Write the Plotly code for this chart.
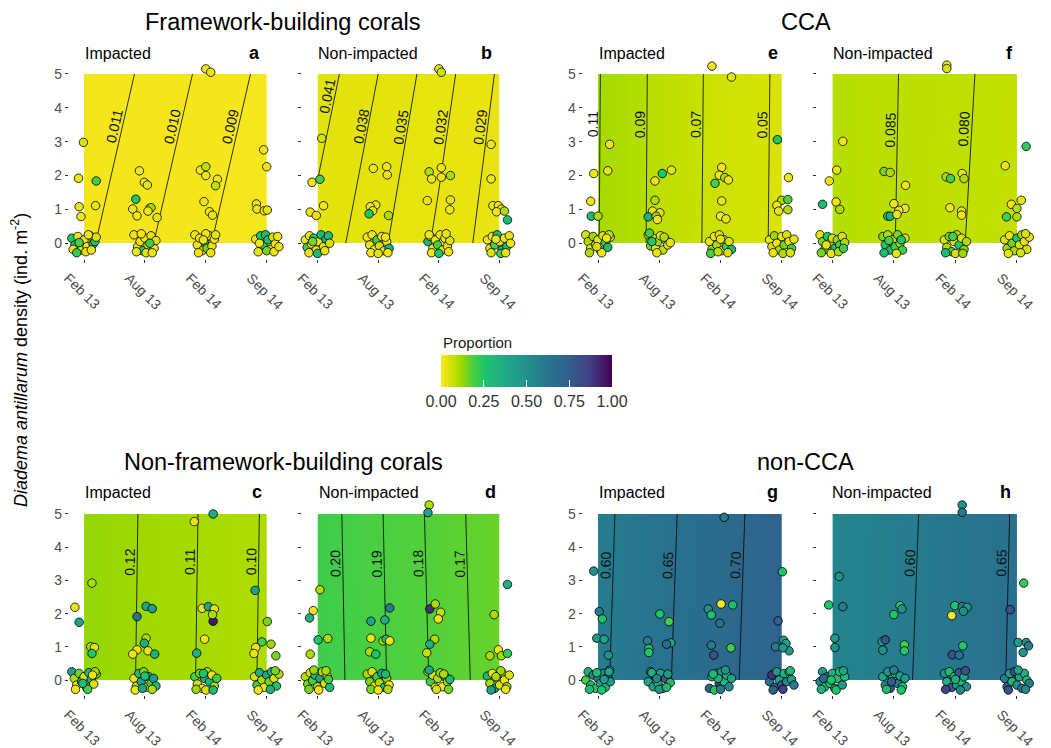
import math
import plotly.graph_objects as go

# ---------------- data ----------------
times = ["Feb 13", "Aug 13", "Feb 14", "Sep 14"]
time_pos = [0, 1, 2, 3]
grid_dens = [0, 5]

# model-predicted proportion at grid nodes (rows: density 0 and 5; cols: time)
fb_imp_grid = [[0.0112, 0.01015, 0.0091, 0.00805], [0.01187, 0.01082, 0.00977, 0.00872]]
fb_non_grid = [[0.0400, 0.0357, 0.0314, 0.0271], [0.0427, 0.0380, 0.0333, 0.0286]]
cca_imp_grid = [[0.1105, 0.0844, 0.0637, 0.0461], [0.1110, 0.0849, 0.0642, 0.0466]]
cca_non_grid = [[0.0895, 0.0851, 0.0807, 0.0763], [0.0894, 0.0853, 0.0813, 0.0772]]
nfb_imp_grid = [[0.1288, 0.1184, 0.1083, 0.0984], [0.1292, 0.1188, 0.1087, 0.0988]]
nfb_non_grid = [[0.2066, 0.1920, 0.1776, 0.1629], [0.2059, 0.1912, 0.1765, 0.1618]]
ncca_imp_grid = [[0.5904, 0.6409, 0.6869, 0.7298], [0.5861, 0.6364, 0.6828, 0.7260]]
ncca_non_grid = [[0.557, 0.590, 0.623, 0.656], [0.5527, 0.5864, 0.6202, 0.654]]

# contour levels shown in each panel and the density at which each is labelled
fb_imp_levels = [0.009, 0.010, 0.011]
fb_non_levels = [0.029, 0.032, 0.035, 0.038, 0.041]
cca_imp_levels = [0.05, 0.07, 0.09, 0.11]
cca_non_levels = [0.080, 0.085]
nfb_imp_levels = [0.10, 0.11, 0.12]
nfb_non_levels = [0.17, 0.18, 0.19, 0.20]
ncca_imp_levels = [0.60, 0.65, 0.70]
ncca_non_levels = [0.60, 0.65]
fb_imp_label_y = [3.4, 3.4, 3.4]
fb_non_label_y = [3.4, 3.4, 3.4, 3.4, 4.3]
cca_imp_label_y = [3.5, 3.5, 3.5, 3.5]
cca_non_label_y = [3.35, 3.35]
nfb_imp_label_y = [3.55, 3.55, 3.55]
nfb_non_label_y = [3.5, 3.5, 3.5, 3.5]
ncca_imp_label_y = [3.45, 3.45, 3.45]
ncca_non_label_y = [3.5, 3.5]

# observations: (time position incl. jitter, density incl. jitter, proportion)
fb_imp_pts = [
    (-0.01, 2.98, 0.05), (-0.09, 1.92, 0.02), (0.20, 1.84, 0.2), (-0.08, 1.08, 0.02), (0.19, 1.11, 0.03), (-0.05, 0.79, 0.02),
    (-0.20, 0.15, 0.25), (-0.15, -0.05, 0.3), (-0.10, 0.20, 0.02), (-0.05, -0.20, 0.04), (0.00, 0.10, 0.01), (0.05, -0.10, 0.02),
    (0.10, 0.22, 0.03), (0.15, -0.02, 0.28), (0.18, 0.05, 0.25), (-0.18, -0.18, 0.02), (-0.08, 0.02, 0.2), (0.03, -0.25, 0.03),
    (0.12, -0.20, 0.02), (0.20, 0.18, 0.05), (-0.12, -0.28, 0.22), (0.07, 0.25, 0.01),
    (0.91, 2.14, 0.02), (0.99, 1.80, 0.02), (1.04, 1.72, 0.03), (0.85, 1.30, 0.25), (0.80, 1.01, 0.02), (1.08, 1.03, 0.1),
    (1.10, 1.05, 0.12), (1.05, 0.95, 0.02), (0.87, 0.81, 0.02), (1.20, 0.76, 0.03),
    (0.82, 0.25, 0.02), (0.88, -0.10, 0.03), (0.92, 0.05, 0.02), (0.96, -0.22, 0.25), (1.00, 0.15, 0.02), (1.05, -0.05, 0.05),
    (1.10, 0.22, 0.03), (1.15, -0.15, 0.02), (1.18, 0.08, 0.04), (0.86, -0.25, 0.02), (1.02, -0.28, 0.03), (1.12, -0.28, 0.02),
    (0.94, 0.28, 0.02), (1.08, 0.00, 0.2),
    (2.00, 5.15, 0.02), (2.08, 5.05, 0.03), (1.91, 2.16, 0.02), (2.00, 2.26, 0.08), (2.00, 2.00, 0.02), (2.19, 1.89, 0.02),
    (2.16, 1.70, 0.08), (1.97, 1.23, 0.02), (2.06, 0.93, 0.02), (2.11, 0.83, 0.03),
    (1.82, 0.25, 0.02), (1.86, -0.05, 0.03), (1.90, 0.15, 0.02), (1.94, -0.22, 0.05), (1.98, 0.05, 0.25), (2.02, -0.15, 0.15),
    (2.06, 0.22, 0.02), (2.10, -0.08, 0.03), (2.14, 0.12, 0.02), (1.88, -0.28, 0.02), (2.00, 0.28, 0.02), (2.08, -0.28, 0.03),
    (2.16, 0.25, 0.04), (1.96, 0.10, 0.02),
    (2.95, 2.76, 0.02), (3.00, 2.26, 0.03), (2.83, 1.16, 0.02), (2.84, 1.01, 0.02), (2.96, 0.96, 0.02), (3.01, 0.98, 0.03),
    (2.82, 0.12, 0.02), (2.86, -0.25, 0.03), (2.90, 0.22, 0.25), (2.94, -0.05, 0.2), (2.98, 0.25, 0.3), (3.02, 0.10, 0.28),
    (3.06, -0.18, 0.03), (3.10, 0.18, 0.05), (3.14, -0.02, 0.02), (3.18, 0.20, 0.02), (2.88, 0.00, 0.02), (3.00, -0.22, 0.15),
    (3.12, -0.25, 0.02), (3.20, -0.10, 0.03),
]
fb_non_pts = [
    (0.07, 3.10, 0.06), (-0.09, 1.80, 0.02), (0.04, 1.89, 0.2), (0.10, 1.11, 0.02), (-0.12, 0.92, 0.02), (-0.02, 0.82, 0.02),
    (-0.20, 0.10, 0.02), (-0.17, -0.12, 0.2), (-0.13, 0.22, 0.03), (-0.10, -0.02, 0.02), (-0.06, 0.15, 0.25), (-0.02, -0.20, 0.03),
    (0.02, 0.05, 0.02), (0.06, 0.25, 0.3), (0.10, -0.10, 0.02), (0.14, 0.12, 0.35), (0.18, 0.22, 0.3), (-0.14, -0.28, 0.02),
    (0.00, -0.30, 0.3), (0.12, -0.22, 0.03), (0.20, 0.00, 0.05), (-0.08, 0.05, 0.15),
    (0.92, 2.21, 0.02), (1.14, 2.26, 0.02), (1.15, 2.02, 0.02), (0.96, 1.13, 0.02), (0.87, 1.08, 0.02), (0.91, 0.96, 0.03),
    (0.85, 0.87, 0.25), (1.17, 0.82, 0.1),
    (0.82, 0.18, 0.02), (0.86, -0.05, 0.03), (0.90, 0.25, 0.02), (0.94, -0.18, 0.02), (0.98, 0.10, 0.2), (1.02, -0.08, 0.05),
    (1.06, 0.20, 0.02), (1.10, -0.22, 0.03), (1.14, 0.05, 0.02), (1.18, -0.15, 0.35), (0.88, -0.28, 0.02), (1.12, 0.18, 0.02),
    (1.00, -0.30, 0.03), (1.16, -0.28, 0.02),
    (2.00, 5.15, 0.03), (2.04, 5.05, 0.06), (1.84, 2.11, 0.1), (1.88, 1.90, 0.02), (2.04, 2.23, 0.02), (2.04, 1.95, 0.02),
    (2.19, 2.00, 0.1), (1.81, 1.26, 0.02), (2.19, 1.28, 0.03), (2.18, 0.99, 0.02),
    (1.82, 0.05, 0.3), (1.86, 0.20, 0.02), (1.90, -0.15, 0.03), (1.94, 0.10, 0.02), (1.98, -0.05, 0.2), (2.02, 0.25, 0.02),
    (2.06, -0.20, 0.03), (2.10, 0.15, 0.02), (2.14, -0.08, 0.02), (2.18, 0.08, 0.05), (1.88, -0.28, 0.02), (2.00, -0.30, 0.25),
    (2.12, 0.28, 0.03), (1.84, 0.25, 0.02), (2.16, -0.25, 0.02),
    (2.86, 2.92, 0.02), (2.86, 1.90, 0.02), (2.89, 1.11, 0.02), (2.98, 1.11, 0.02), (3.03, 1.01, 0.03), (2.95, 0.93, 0.02),
    (3.08, 0.95, 0.1), (3.13, 0.69, 0.3),
    (2.80, 0.10, 0.02), (2.84, -0.15, 0.03), (2.88, 0.20, 0.02), (2.92, -0.05, 0.2), (2.96, 0.25, 0.3), (3.00, 0.05, 0.02),
    (3.04, -0.20, 0.25), (3.08, 0.15, 0.02), (3.12, -0.10, 0.3), (3.16, 0.22, 0.03), (2.86, -0.28, 0.05), (3.02, -0.30, 0.2),
    (3.10, -0.28, 0.02), (2.94, 0.12, 0.02), (3.18, 0.00, 0.02),
]
cca_imp_pts = [
    (0.19, 2.92, 0.02), (-0.07, 2.06, 0.02), (0.16, 2.14, 0.03), (-0.12, 1.24, 0.02), (-0.11, 0.80, 0.3), (0.00, 0.80, 0.1),
    (-0.20, 0.25, 0.05), (-0.16, 0.05, 0.1), (-0.12, -0.15, 0.03), (-0.08, 0.20, 0.12), (-0.04, -0.05, 0.02), (0.00, 0.10, 0.02),
    (0.04, -0.22, 0.15), (0.08, 0.22, 0.05), (0.12, 0.02, 0.2), (0.16, -0.12, 0.3), (0.20, 0.18, 0.05), (-0.14, -0.28, 0.1),
    (0.06, -0.28, 0.02), (0.18, 0.25, 0.08), (-0.02, -0.10, 0.05), (0.14, 0.15, 0.03),
    (0.93, 1.84, 0.02), (1.05, 2.06, 0.25), (1.20, 2.16, 0.03), (0.93, 1.27, 0.1), (0.89, 0.95, 0.02), (1.01, 0.90, 0.03),
    (0.82, 0.78, 0.35), (0.95, 0.80, 0.12), (0.97, 0.70, 0.02),
    (0.82, 0.25, 0.1), (0.86, -0.08, 0.15), (0.90, 0.15, 0.05), (0.94, -0.15, 0.02), (0.98, 0.05, 0.12), (1.02, 0.22, 0.03),
    (1.06, -0.20, 0.08), (1.10, 0.10, 0.15), (1.14, -0.05, 0.05), (1.18, 0.02, 0.03), (0.84, 0.30, 0.2), (0.96, -0.28, 0.03),
    (1.08, 0.18, 0.1), (0.88, 0.05, 0.25),
    (1.86, 5.23, 0.02), (2.18, 4.91, 0.03), (2.02, 2.24, 0.02), (1.98, 2.01, 0.02), (1.91, 1.77, 0.2), (2.07, 1.94, 0.1),
    (2.13, 1.87, 0.02), (2.02, 1.25, 0.02), (2.00, 0.80, 0.02), (2.09, 0.72, 0.03),
    (1.82, 0.05, 0.03), (1.86, -0.18, 0.15), (1.90, 0.20, 0.02), (1.94, -0.05, 0.1), (1.98, 0.25, 0.05), (2.02, -0.22, 0.03),
    (2.06, 0.10, 0.12), (2.10, -0.10, 0.2), (2.14, 0.05, 0.05), (2.18, -0.18, 0.3), (1.84, -0.30, 0.2), (2.00, 0.12, 0.03),
    (2.12, -0.28, 0.05), (1.96, -0.25, 0.08),
    (2.93, 3.06, 0.25), (3.11, 1.94, 0.02), (3.00, 1.27, 0.1), (3.10, 1.29, 0.18), (3.10, 0.99, 0.1), (2.92, 1.12, 0.02),
    (2.95, 0.95, 0.03),
    (2.80, 0.10, 0.03), (2.84, -0.10, 0.05), (2.88, 0.22, 0.12), (2.92, 0.00, 0.02), (2.96, -0.20, 0.1), (3.00, 0.20, 0.03),
    (3.04, -0.05, 0.15), (3.08, 0.25, 0.05), (3.12, 0.05, 0.02), (3.16, -0.15, 0.2), (3.20, 0.12, 0.03), (2.86, -0.28, 0.03),
    (3.02, -0.30, 0.1), (3.14, -0.28, 0.05),
]
cca_non_pts = [
    (0.17, 3.01, 0.02), (0.07, 2.16, 0.03), (-0.05, 1.84, 0.02), (-0.16, 1.15, 0.3), (0.06, 1.22, 0.02), (0.12, 1.00, 0.1),
    (-0.20, 0.25, 0.03), (-0.16, 0.05, 0.15), (-0.12, -0.18, 0.2), (-0.08, 0.20, 0.25), (-0.04, 0.00, 0.1), (0.00, 0.15, 0.05),
    (0.04, -0.15, 0.3), (0.08, 0.10, 0.12), (0.12, -0.05, 0.2), (0.16, 0.20, 0.05), (0.20, 0.02, 0.1), (-0.18, -0.28, 0.15),
    (-0.02, -0.30, 0.03), (0.10, -0.25, 0.1), (0.18, -0.15, 0.2), (-0.10, -0.05, 0.03),
    (0.84, 2.12, 0.15), (0.94, 2.09, 0.1), (1.19, 1.71, 0.02), (1.00, 1.17, 0.02), (1.18, 1.03, 0.02), (0.90, 0.80, 0.25),
    (0.94, 0.80, 0.35), (1.08, 0.97, 0.02), (1.05, 0.85, 0.03),
    (0.82, 0.20, 0.15), (0.86, -0.05, 0.25), (0.90, 0.25, 0.1), (0.94, -0.20, 0.3), (0.98, 0.10, 0.05), (1.02, -0.10, 0.2),
    (1.06, 0.25, 0.15), (1.10, 0.00, 0.1), (1.14, -0.20, 0.2), (1.18, 0.15, 0.05), (0.84, -0.28, 0.3), (1.04, -0.30, 0.03),
    (0.92, 0.08, 0.2), (1.12, 0.10, 0.25),
    (1.86, 5.26, 0.02), (1.86, 5.16, 0.05), (1.85, 1.96, 0.1), (1.92, 1.91, 0.2), (2.11, 2.06, 0.03), (2.14, 1.91, 0.1),
    (1.91, 1.05, 0.02), (2.10, 0.95, 0.03), (2.10, 0.83, 0.02),
    (1.82, 0.10, 0.05), (1.86, -0.12, 0.1), (1.90, 0.20, 0.15), (1.94, -0.25, 0.2), (1.98, 0.05, 0.03), (2.02, 0.25, 0.1),
    (2.06, -0.05, 0.25), (2.10, 0.15, 0.05), (2.14, -0.18, 0.15), (2.18, 0.05, 0.1), (1.84, -0.28, 0.3), (2.00, -0.30, 0.05),
    (2.12, -0.30, 0.12), (1.96, 0.20, 0.2),
    (2.81, 2.29, 0.02), (3.15, 2.86, 0.22), (2.91, 1.15, 0.02), (3.00, 1.03, 0.1), (3.07, 1.27, 0.03), (2.83, 0.78, 0.2),
    (3.00, 0.78, 0.1),
    (2.80, 0.10, 0.05), (2.84, -0.15, 0.12), (2.88, 0.22, 0.03), (2.92, 0.00, 0.15), (2.96, -0.22, 0.1), (3.00, 0.15, 0.25),
    (3.04, -0.05, 0.05), (3.08, 0.25, 0.1), (3.12, 0.05, 0.03), (3.16, -0.18, 0.05), (3.20, 0.18, 0.03), (2.86, -0.30, 0.03),
    (3.06, -0.28, 0.05), (3.14, 0.28, 0.05),
]
nfb_imp_pts = [
    (0.13, 2.92, 0.1), (-0.15, 2.19, 0.02), (-0.08, 1.74, 0.4), (0.11, 1.00, 0.1), (0.17, 0.98, 0.03), (0.13, 0.80, 0.25),
    (-0.20, 0.25, 0.4), (-0.16, 0.05, 0.1), (-0.12, -0.15, 0.02), (-0.08, 0.20, 0.15), (-0.04, -0.05, 0.25), (0.00, 0.10, 0.05),
    (0.04, -0.22, 0.12), (0.08, 0.22, 0.3), (0.12, 0.02, 0.35), (0.16, -0.12, 0.05), (0.20, 0.18, 0.15), (-0.14, -0.28, 0.02),
    (0.06, -0.28, 0.2), (0.18, 0.25, 0.1), (-0.02, -0.10, 0.3), (0.14, 0.15, 0.03),
    (0.87, 1.91, 0.65), (1.02, 2.22, 0.4), (1.12, 2.15, 0.45), (1.02, 1.26, 0.1), (0.99, 1.11, 0.35), (0.87, 0.91, 0.03),
    (0.80, 0.78, 0.02), (1.05, 0.88, 0.03), (1.16, 0.78, 0.35),
    (0.82, 0.05, 0.02), (0.86, -0.18, 0.1), (0.90, 0.20, 0.3), (0.94, -0.05, 0.4), (0.98, 0.25, 0.15), (1.02, -0.22, 0.05),
    (1.06, 0.10, 0.35), (1.10, -0.10, 0.2), (1.14, 0.05, 0.45), (1.18, -0.18, 0.3), (0.84, -0.30, 0.02), (1.00, 0.12, 0.25),
    (1.12, -0.28, 0.1), (0.96, -0.25, 0.4),
    (2.12, 5.00, 0.35), (1.81, 4.77, 0.03), (1.94, 2.16, 0.02), (2.04, 2.21, 0.4), (2.14, 2.14, 0.03), (2.12, 1.77, 0.95),
    (2.11, 1.97, 0.1), (1.98, 1.23, 0.02), (1.85, 0.81, 0.35),
    (1.82, 0.10, 0.2), (1.86, -0.12, 0.05), (1.90, 0.20, 0.15), (1.94, -0.25, 0.02), (1.98, 0.05, 0.3), (2.02, 0.25, 0.1),
    (2.06, -0.05, 0.35), (2.10, 0.15, 0.02), (2.14, -0.18, 0.1), (2.18, 0.05, 0.2), (1.84, -0.28, 0.12), (2.00, -0.30, 0.05),
    (2.12, -0.30, 0.3), (1.96, 0.20, 0.25),
    (2.81, 2.70, 0.4), (3.01, 1.76, 0.15), (2.92, 1.15, 0.2), (3.07, 1.08, 0.12), (3.15, 0.73, 0.15), (2.82, 0.98, 0.02),
    (2.79, 0.80, 0.03),
    (2.80, 0.10, 0.05), (2.84, -0.15, 0.2), (2.88, 0.22, 0.35), (2.92, 0.00, 0.1), (2.96, -0.22, 0.02), (3.00, 0.15, 0.4),
    (3.04, -0.05, 0.15), (3.08, 0.25, 0.3), (3.12, 0.05, 0.05), (3.16, -0.18, 0.25), (3.20, 0.18, 0.1), (2.86, -0.30, 0.02),
    (3.06, -0.28, 0.35), (3.14, 0.28, 0.15),
]
nfb_non_pts = [
    (0.04, 2.72, 0.1), (-0.07, 2.09, 0.02), (-0.13, 1.87, 0.35), (0.01, 1.21, 0.25), (0.17, 1.25, 0.1), (-0.12, 0.78, 0.1),
    (-0.20, 0.10, 0.1), (-0.16, -0.12, 0.15), (-0.12, 0.22, 0.05), (-0.08, -0.02, 0.2), (-0.04, 0.15, 0.3), (0.00, -0.20, 0.12),
    (0.04, 0.05, 0.4), (0.08, 0.25, 0.1), (0.12, -0.10, 0.05), (0.16, 0.12, 0.02), (0.20, -0.22, 0.3), (-0.14, -0.28, 0.15),
    (0.02, -0.30, 0.02), (0.14, 0.28, 0.1), (-0.06, 0.30, 0.12), (0.18, 0.02, 0.2),
    (1.19, 2.17, 0.6), (0.88, 1.77, 0.4), (1.11, 1.81, 0.35), (0.88, 1.26, 0.02), (1.08, 1.18, 0.1), (1.13, 1.23, 0.3),
    (1.19, 1.18, 0.02), (0.86, 0.85, 0.1), (0.96, 0.78, 0.25),
    (0.82, 0.18, 0.1), (0.86, -0.05, 0.15), (0.90, 0.25, 0.05), (0.94, -0.18, 0.02), (0.98, 0.10, 0.2), (1.02, -0.08, 0.1),
    (1.06, 0.20, 0.4), (1.10, -0.22, 0.35), (1.14, 0.05, 0.12), (1.18, -0.15, 0.02), (0.88, -0.28, 0.15), (1.12, 0.18, 0.3),
    (1.00, -0.30, 0.02), (1.16, -0.28, 0.1),
    (1.84, 5.27, 0.1), (1.82, 5.04, 0.4), (1.85, 2.14, 0.9), (1.94, 2.29, 0.1), (2.03, 2.04, 0.08), (1.99, 1.84, 0.02),
    (1.93, 1.23, 0.1), (1.85, 1.08, 0.35), (1.80, 0.82, 0.08),
    (1.82, 0.25, 0.12), (1.86, -0.05, 0.2), (1.90, 0.15, 0.05), (1.94, -0.22, 0.02), (1.98, 0.05, 0.1), (2.02, 0.22, 0.15),
    (2.06, -0.20, 0.02), (2.10, 0.10, 0.25), (2.14, -0.05, 0.12), (2.18, 0.02, 0.3), (1.84, 0.30, 0.4), (1.96, -0.28, 0.05),
    (2.08, 0.18, 0.1), (2.16, -0.28, 0.15),
    (3.13, 2.88, 0.35), (2.91, 1.97, 0.1), (2.98, 0.91, 0.02), (2.84, 0.73, 0.1), (3.03, 0.73, 0.1), (3.13, 0.80, 0.22),
    (2.80, 0.12, 0.3), (2.84, -0.10, 0.1), (2.88, 0.20, 0.02), (2.92, -0.25, 0.45), (2.96, 0.05, 0.15), (3.00, -0.15, 0.05),
    (3.04, 0.22, 0.1), (3.08, 0.00, 0.02), (3.12, -0.20, 0.12), (3.16, 0.15, 0.05), (2.86, -0.30, 0.4), (3.02, 0.28, 0.12),
    (3.10, -0.28, 0.03), (2.94, 0.10, 0.1),
]
ncca_imp_pts = [
    (-0.07, 3.28, 0.5), (0.02, 2.06, 0.6), (0.07, 1.84, 0.25), (-0.02, 1.26, 0.45), (0.10, 1.23, 0.4), (0.17, 0.75, 0.5),
    (0.19, 0.30, 0.45),
    (-0.20, 0.00, 0.2), (-0.16, 0.25, 0.35), (-0.12, -0.15, 0.3), (-0.08, 0.15, 0.55), (-0.04, -0.25, 0.25), (0.00, 0.05, 0.6),
    (0.04, -0.10, 0.45), (0.08, 0.20, 0.5), (0.12, -0.22, 0.35), (0.16, 0.10, 0.65), (0.20, -0.05, 0.45), (-0.14, -0.28, 0.3),
    (0.06, -0.30, 0.25), (0.18, 0.25, 0.4), (-0.02, 0.22, 0.3), (0.10, 0.02, 0.45),
    (0.81, 1.18, 0.6), (0.83, 0.95, 0.3), (0.83, 0.83, 0.25), (1.01, 1.99, 0.25), (1.16, 1.76, 0.2), (1.19, 1.12, 0.4),
    (1.12, 1.08, 0.7),
    (0.82, -0.05, 0.4), (0.86, 0.25, 0.55), (0.90, -0.20, 0.45), (0.94, 0.10, 0.65), (0.98, -0.10, 0.35), (1.02, 0.20, 0.4),
    (1.06, -0.25, 0.25), (1.10, 0.05, 0.8), (1.14, 0.18, 0.45), (1.18, -0.08, 0.3), (0.88, 0.22, 0.35), (1.00, -0.28, 0.5),
    (1.12, -0.22, 0.3), (0.96, 0.05, 0.55),
    (2.06, 4.90, 0.6), (1.80, 2.14, 0.5), (2.01, 2.29, 0.0), (2.20, 2.26, 0.3), (1.85, 1.96, 0.25), (1.99, 1.71, 0.65),
    (1.85, 1.05, 0.6), (1.89, 0.75, 0.8), (2.17, 0.97, 0.2),
    (1.82, -0.25, 0.7), (1.86, 0.10, 0.4), (1.90, -0.30, 0.25), (1.94, 0.20, 0.5), (1.98, -0.10, 0.85), (2.02, 0.25, 0.45),
    (2.06, -0.05, 0.3), (2.10, 0.15, 0.35), (2.14, -0.20, 0.55), (2.18, 0.05, 0.4), (1.96, 0.05, 0.35), (2.00, -0.28, 0.6),
    (2.08, 0.30, 0.5), (1.88, 0.18, 0.3),
    (3.01, 3.26, 0.25), (2.94, 1.78, 0.75), (3.03, 1.20, 0.45), (3.07, 1.10, 0.4), (3.12, 0.88, 0.45), (2.90, 1.00, 0.6),
    (3.02, 0.97, 0.45),
    (2.80, -0.05, 0.65), (2.84, 0.15, 0.9), (2.88, -0.22, 0.7), (2.92, 0.25, 0.45), (2.96, 0.00, 0.4), (3.00, -0.15, 0.8),
    (3.04, 0.20, 0.3), (3.08, -0.05, 0.55), (3.12, 0.25, 0.35), (3.16, 0.02, 0.45), (3.20, -0.15, 0.6), (2.86, -0.30, 0.75),
    (3.02, -0.28, 0.85), (3.14, 0.28, 0.3),
]
ncca_non_pts = [
    (0.11, 3.12, 0.5), (-0.06, 2.26, 0.25), (0.17, 2.21, 0.6), (0.04, 1.26, 0.45), (0.04, 0.98, 0.5),
    (-0.20, -0.05, 0.55), (-0.16, 0.25, 0.45), (-0.12, -0.20, 0.3), (-0.08, 0.10, 0.6), (-0.04, -0.10, 0.25), (0.00, 0.20, 0.35),
    (0.04, -0.25, 0.5), (0.08, 0.05, 0.3), (0.12, 0.25, 0.25), (0.16, -0.15, 0.45), (0.20, 0.10, 0.3), (-0.14, 0.05, 0.7),
    (0.06, -0.30, 0.25), (0.18, 0.28, 0.4), (-0.02, 0.00, 0.25), (-0.18, -0.28, 0.35),
    (1.10, 2.24, 0.25), (1.13, 2.14, 0.5), (1.00, 1.97, 0.25), (0.81, 1.16, 0.45), (0.86, 1.21, 0.8), (0.82, 0.90, 0.5),
    (1.17, 1.06, 0.2), (1.17, 0.88, 0.25),
    (0.82, 0.10, 0.4), (0.86, -0.15, 0.55), (0.90, 0.25, 0.5), (0.94, -0.25, 0.8), (0.98, 0.05, 0.25), (1.02, 0.20, 0.35),
    (1.06, -0.10, 0.6), (1.10, 0.12, 0.4), (1.14, -0.20, 0.3), (1.18, 0.05, 0.45), (0.88, -0.28, 0.3), (1.00, 0.30, 0.6),
    (1.12, -0.30, 0.25), (0.96, -0.05, 0.75),
    (2.11, 5.27, 0.5), (2.11, 5.05, 0.6), (1.99, 2.24, 0.25), (2.11, 2.21, 0.6), (2.19, 2.19, 0.45), (2.13, 2.07, 0.5),
    (1.94, 1.94, 0.0), (2.12, 1.03, 0.25), (1.95, 0.76, 0.8), (2.06, 0.75, 0.65),
    (1.82, 0.20, 0.5), (1.86, -0.05, 0.35), (1.90, 0.25, 0.3), (1.94, -0.22, 0.8), (1.98, 0.10, 0.25), (2.02, -0.15, 0.45),
    (2.06, 0.22, 0.75), (2.10, -0.05, 0.3), (2.14, 0.10, 0.4), (2.18, -0.20, 0.5), (1.84, -0.28, 0.85), (2.00, 0.02, 0.35),
    (2.08, -0.30, 0.55), (2.16, 0.28, 0.8),
    (3.11, 2.92, 0.22), (2.89, 2.12, 0.8), (3.02, 1.13, 0.45), (3.15, 1.13, 0.5), (3.19, 1.03, 0.6), (3.10, 0.83, 0.5),
    (2.80, 0.05, 0.6), (2.84, -0.20, 0.75), (2.88, 0.20, 0.45), (2.92, -0.05, 0.3), (2.96, 0.25, 0.8), (3.00, -0.15, 0.5),
    (3.04, 0.10, 0.4), (3.08, -0.25, 0.65), (3.12, 0.20, 0.35), (3.16, 0.00, 0.3), (3.20, -0.10, 0.6), (2.86, -0.30, 0.8),
    (3.02, 0.30, 0.4), (3.14, -0.28, 0.55),
]

group_titles = ["Framework-building corals", "CCA", "Non-framework-building corals", "non-CCA"]
site_labels = ["Impacted", "Non-impacted"]
panel_letters = ["a", "b", "e", "f", "c", "d", "g", "h"]
prop_ticks = [0, 0.25, 0.5, 0.75, 1.0]

# ---------------- styling / layout ----------------
# the page body keeps an 8 px margin, so the figure is placed 8 px in from the window edge
PAGE_W, PAGE_H, BODY = 1051, 748, 8
W, H = PAGE_W - BODY, PAGE_H - BODY
def px(x): return (x - BODY) / W
def py(y): return 1 - (y - BODY) / H

FONT = "Liberation Sans, Arial, sans-serif"
proportion_scale = [
    [0.00, "#fbe722"], [0.04, "#e2e30a"], [0.08, "#bfe000"], [0.12, "#9ed800"],
    [0.18, "#52d03a"], [0.25, "#1ec66a"], [0.38, "#1fa888"], [0.50, "#21918c"],
    [0.62, "#27768e"], [0.75, "#305f8d"], [0.87, "#433f85"], [1.00, "#440154"],
]

panels = [
    dict(grid=fb_imp_grid, pts=fb_imp_pts, levels=fb_imp_levels, ly=fb_imp_label_y, fmt="{:.3f}"),
    dict(grid=fb_non_grid, pts=fb_non_pts, levels=fb_non_levels, ly=fb_non_label_y, fmt="{:.3f}"),
    dict(grid=cca_imp_grid, pts=cca_imp_pts, levels=cca_imp_levels, ly=cca_imp_label_y, fmt="{:.2f}"),
    dict(grid=cca_non_grid, pts=cca_non_pts, levels=cca_non_levels, ly=cca_non_label_y, fmt="{:.3f}"),
    dict(grid=nfb_imp_grid, pts=nfb_imp_pts, levels=nfb_imp_levels, ly=nfb_imp_label_y, fmt="{:.2f}"),
    dict(grid=nfb_non_grid, pts=nfb_non_pts, levels=nfb_non_levels, ly=nfb_non_label_y, fmt="{:.2f}"),
    dict(grid=ncca_imp_grid, pts=ncca_imp_pts, levels=ncca_imp_levels, ly=ncca_imp_label_y, fmt="{:.2f}"),
    dict(grid=ncca_non_grid, pts=ncca_non_pts, levels=ncca_non_levels, ly=ncca_non_label_y, fmt="{:.2f}"),
]

col_px = [[68.8, 285.0], [302.3, 517.8], [582.7, 800.1], [817.0, 1035.4]]
row_px = [[63.8, 258.5], [504.0, 695.0]]
col_domains = [[px(a), px(b)] for a, b in col_px]
row_domains = [[py(b), py(a)] for a, b in row_px]
XR = [-0.25, 3.3]
YR = [-0.45, 5.3]


def grid_value(grid, x, y):
    """bilinear value of the grid (same interpolation as the contour trace)."""
    xs = time_pos
    j = min(max(int(math.floor(x)), 0), len(xs) - 2)
    t = x - xs[j]
    zb = grid[0][j] + (grid[0][j + 1] - grid[0][j]) * t
    zt = grid[1][j] + (grid[1][j + 1] - grid[1][j]) * t
    return zb + (zt - zb) * (y - grid_dens[0]) / (grid_dens[1] - grid_dens[0])


def level_x(grid, level, y):
    xs = time_pos
    for j in range(len(xs) - 1):
        a = grid_value(grid, xs[j], y)
        b = grid_value(grid, xs[j + 1], y)
        if (a - level) * (b - level) <= 0 and a != b:
            return xs[j] + (level - a) / (b - a) * (xs[j + 1] - xs[j])
    a = grid_value(grid, xs[0], y)
    b = grid_value(grid, xs[1], y)
    return xs[0] + (level - a) / (b - a)


fig = go.Figure()
tick_font = dict(family=FONT, size=14, color="#4d4d4d")
annotations = []

for i, pnl in enumerate(panels):
    n = i + 1
    xa = "x" if n == 1 else f"x{n}"
    ya = "y" if n == 1 else f"y{n}"
    row, col = divmod(i, 4)
    lv = pnl["levels"]
    step = (lv[1] - lv[0]) if len(lv) > 1 else 0.01
    fig.add_trace(go.Contour(
        x=time_pos, y=grid_dens, z=pnl["grid"], coloraxis="coloraxis",
        autocontour=False,
        contours=dict(start=lv[0], end=lv[-1], size=step, coloring="heatmap", showlabels=False),
        line=dict(color="black", width=0.8, smoothing=0),
        hoverinfo="skip", xaxis=xa, yaxis=ya, showlegend=False,
    ))
    fig.add_trace(go.Scatter(
        x=[p[0] for p in pnl["pts"]], y=[p[1] for p in pnl["pts"]], mode="markers",
        marker=dict(size=8.5, color=[p[2] for p in pnl["pts"]], coloraxis="coloraxis",
                    line=dict(color="black", width=0.8)),
        cliponaxis=False, xaxis=xa, yaxis=ya, showlegend=False, hoverinfo="skip",
    ))
    ax_key = "xaxis" if n == 1 else f"xaxis{n}"
    ay_key = "yaxis" if n == 1 else f"yaxis{n}"
    fig.layout[ax_key] = dict(
        domain=col_domains[col], anchor=ya, range=XR, tickmode="array",
        tickvals=time_pos, ticktext=times, tickangle=45, ticks="outside", ticklen=3,
        tickcolor="#333", showgrid=False, zeroline=False, showline=False, automargin=False,
        tickfont=tick_font, ticklabelshift=-16, ticklabelstandoff=2,
    )
    fig.layout[ay_key] = dict(
        domain=row_domains[row], anchor=xa, range=YR, tickmode="array",
        tickvals=[0, 1, 2, 3, 4, 5], showticklabels=(col in (0, 2)), ticks="outside",
        ticklen=3, tickcolor="#333", showgrid=False, zeroline=False, showline=False,
        automargin=False, tickfont=tick_font,
    )

    # contour labels, laid along each line with their baseline on it
    ux = (col_domains[col][1] - col_domains[col][0]) * W / (XR[1] - XR[0])
    uy = (row_domains[row][1] - row_domains[row][0]) * H / (YR[1] - YR[0])
    for level, yl in zip(lv, pnl["ly"]):
        xl = level_x(pnl["grid"], level, yl)
        x_lo = level_x(pnl["grid"], level, yl - 0.5)
        x_hi = level_x(pnl["grid"], level, yl + 0.5)
        ang = math.atan2(1.0 * uy, (x_hi - x_lo) * ux)
        d = 7.5
        annotations.append(dict(
            text=pnl["fmt"].format(level), x=xl, y=yl, xref=xa, yref=ya, showarrow=False,
            textangle=-math.degrees(ang), xanchor="center", yanchor="middle",
            xshift=-d * math.sin(ang), yshift=d * math.cos(ang),
            font=dict(family=FONT, size=14, color="#111")))

title_font = dict(family=FONT, size=23.5, color="black")
for txt, x, y in zip(group_titles, [283, 806, 283, 805], [22, 22, 462, 462]):
    annotations.append(dict(text=txt, x=px(x), y=py(y), xref="paper", yref="paper",
                            showarrow=False, xanchor="center", yanchor="middle", font=title_font))

strip_left = [83, 316, 597, 831, 83, 317, 597, 830]
letter_right = [262, 494, 780, 1015, 264, 498, 780, 1013]
strip_y = [53, 53, 53, 53, 492, 492, 492, 492]
strip_font = dict(family=FONT, size=16, color="black")
for i in range(8):
    annotations.append(dict(text=site_labels[i % 2], x=px(strip_left[i]), y=py(strip_y[i]),
                            xref="paper", yref="paper", showarrow=False, xanchor="left",
                            yanchor="middle", font=strip_font))
    annotations.append(dict(text=f"<b>{panel_letters[i]}</b>", x=px(letter_right[i]), y=py(strip_y[i]),
                            xref="paper", yref="paper", showarrow=False, xanchor="right",
                            yanchor="middle", font=dict(family=FONT, size=18, color="black")))

annotations.append(dict(
    text="<i>Diadema antillarum</i> density (ind. m<sup>-2</sup>)", textangle=-90,
    x=px(19), y=py(360), xref="paper", yref="paper", showarrow=False,
    xanchor="center", yanchor="middle", font=dict(family=FONT, size=18, color="black")))

annotations.append(dict(
    text="Proportion", x=px(441), y=py(342), xref="paper", yref="paper", showarrow=False,
    xanchor="left", yanchor="middle", font=dict(family=FONT, size=15, color="#1a1a1a")))

fig.update_layout(
    width=W, height=H, margin=dict(l=0, r=0, t=0, b=0, autoexpand=False),
    paper_bgcolor="white", plot_bgcolor="white",
    font=dict(family=FONT),
    annotations=annotations,
    coloraxis=dict(
        colorscale=proportion_scale, cmin=0, cmax=1,
        colorbar=dict(
            orientation="h", x=px(526.5), xanchor="center", y=py(355), yanchor="top",
            len=171, lenmode="pixels", thickness=32, thicknessmode="pixels",
            tickmode="array", tickvals=prop_ticks, ticktext=["0.00", "0.25", "0.50", "0.75", "1.00"],
            ticks="inside", ticklen=7, tickcolor="white", tickwidth=1.2,
            tickfont=dict(family=FONT, size=16, color="#333"),
            outlinewidth=0, xpad=0, ypad=0,
        ),
    ),
)

fig.write_html("out.html")
